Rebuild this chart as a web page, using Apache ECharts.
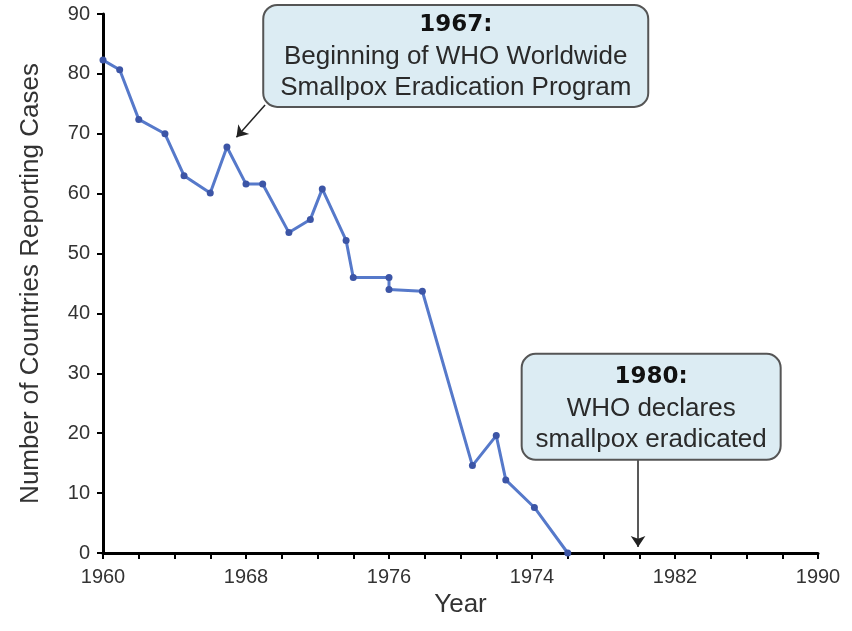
<!DOCTYPE html>
<html>
<head>
<meta charset="utf-8">
<title>Smallpox</title>
<script src="https://cdn.jsdelivr.net/npm/echarts@6/dist/echarts.min.js"></script>
<style>
  html, body { margin: 0; padding: 0; background: #fff; }
  #mychart { width: 852px; height: 631px; }
</style>
</head>
<body>
<div id="mychart"></div>
<script>
// values (x in axis years, tick every 1.5)
var years = [1960, 1960.7, 1961.5, 1962.6, 1963.4, 1964.5, 1965.2, 1966, 1966.7, 1967.8, 1968.7,
    1969.2, 1970.2, 1970.5, 1972, 1972, 1973.4, 1975.5, 1976.5, 1976.9, 1978.1, 1979.5];
var counts = [82.3, 80.7, 72.4, 70, 63, 60.1, 67.8, 61.6, 61.6, 53.5, 55.7,
    60.8, 52.2, 46, 46, 44, 43.7, 14.6, 19.6, 12.2, 7.6, 0];
var xLabels = ['1960', '1968', '1976', '1974', '1982', '1990'];

var note1 = { coord: [1974.8, 83], arrowFrom: [1966.8, 74.8], arrowTo: [1965.6, 69.4] };
var note2 = { coord: [1983, 24.4], arrowFrom: [1982.45, 16], arrowTo: [1982.45, 1] };

var seriesData = [];
for (let i = 0; i < years.length; i++) {
    seriesData.push([years[i], counts[i]])
}

var boxStyle = {
    show: true,
    position: 'inside',
    align: 'center',
    verticalAlign: 'middle',
    backgroundColor: '#dcecf3',
    borderColor: '#555',
    borderWidth: 2,
    borderRadius: 13,
    color: '#222',
    rich: {
        t: { fontFamily: 'DejaVu Sans', fontWeight: 'bold', fontSize: 23, color: '#111', lineHeight: 32, align: 'center' },
        b: { fontFamily: 'Liberation Sans', fontSize: 26, color: '#2a2a2a', lineHeight: 31, align: 'center' }
    }
};

var myChart = echarts.init(document.getElementById('mychart'));
var option = {
    animation: false,
    backgroundColor: '#fff',
    grid: { left: 103, right: 34, top: 14, bottom: 78 },
    xAxis: {
        type: 'value',
        min: 1960,
        max: 1990,
        interval: 6,
        name: 'Year',
        nameLocation: 'middle',
        nameGap: 29,
        nameTextStyle: { fontFamily: 'Liberation Sans', fontSize: 26, color: '#333' },
        axisLine: { show: true, lineStyle: { color: '#000', width: 3 } },
        axisTick: { show: true, length: 6, lineStyle: { color: '#000', width: 2 } },
        minorTick: { show: true, splitNumber: 4, length: 6, lineStyle: { color: '#000', width: 2 } },
        splitLine: { show: false },
        axisLabel: {
            margin: 14,
            fontFamily: 'Liberation Sans',
            fontSize: 20,
            color: '#333',
            formatter: function (v) {
                return xLabels[Math.round((v - 1960) / 6)]
            }
        }
    },
    yAxis: {
        type: 'value',
        min: 0,
        max: 90,
        interval: 10,
        name: 'Number of Countries Reporting Cases',
        nameLocation: 'middle',
        nameGap: 59,
        nameTextStyle: { fontFamily: 'Liberation Sans', fontSize: 26, color: '#333' },
        axisLine: { show: true, lineStyle: { color: '#000', width: 3 } },
        axisTick: { show: true, length: 6, lineStyle: { color: '#000', width: 2 } },
        splitLine: { show: false },
        axisLabel: { margin: 13, fontFamily: 'Liberation Sans', fontSize: 20, color: '#333' }
    },
    series: [
        {
            type: 'line',
            data: seriesData,
            symbol: 'circle',
            symbolSize: 7,
            lineStyle: { color: '#5679ca', width: 3 },
            itemStyle: { color: '#3c55a6' },
            emphasis: { disabled: true },
            markLine: {
                silent: true,
                symbol: ['none', 'arrow'],
                symbolSize: 11,
                label: { show: false },
                lineStyle: { color: '#222', width: 1.5, type: 'solid' },
                data: [
                    [{ coord: note1.arrowFrom }, { coord: note1.arrowTo }],
                    [{ coord: note2.arrowFrom }, { coord: note2.arrowTo }]
                ]
            },
            markPoint: {
                silent: true,
                symbol: 'circle',
                symbolSize: 0,
                data: [
                    {
                        coord: note1.coord,
                        label: Object.assign({}, boxStyle, {
                            width: 383,
                            padding: [3, 0, 3, 0],
                            formatter: '{t|1967:}\n{b|Beginning of WHO Worldwide}\n{b|Smallpox Eradication Program}'
                        })
                    },
                    {
                        coord: note2.coord,
                        label: Object.assign({}, boxStyle, {
                            width: 257,
                            padding: [6, 0, 4, 0],
                            formatter: '{t|1980:}\n{b|WHO declares}\n{b|smallpox eradicated}'
                        })
                    }
                ]
            }
        }
    ]
};
myChart.setOption(option);
</script>
</body>
</html>
